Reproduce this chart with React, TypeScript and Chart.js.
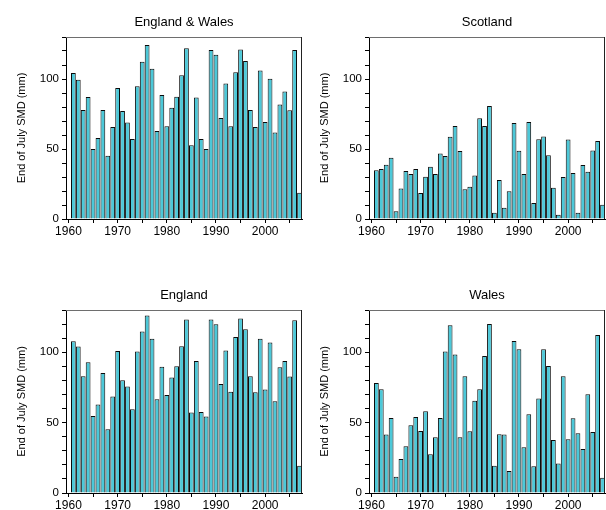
import React, { useEffect, useRef } from 'react';
import { Chart, registerables } from 'chart.js';

Chart.register(...registerables);

const FONT = '"Liberation Sans", Arial, Helvetica, sans-serif';

const years = [
  1960, 1961, 1962, 1963, 1964, 1965, 1966, 1967, 1968, 1969,
  1970, 1971, 1972, 1973, 1974, 1975, 1976, 1977, 1978, 1979,
  1980, 1981, 1982, 1983, 1984, 1985, 1986, 1987, 1988, 1989,
  1990, 1991, 1992, 1993, 1994, 1995, 1996, 1997, 1998, 1999,
  2000, 2001, 2002, 2003, 2004, 2005, 2006, 2007,
];

const englandWales = [
  null, 104.3, 99.5, 77.9, 87.1, 50, 57.9, 77.9, 45.2, 65.7,
  93.6, 77.1, 69, 57.1, 94.8, 112.4, 124.3, 107.4, 62.9, 88.6,
  66.2, 79.5, 87.4, 102.6, 121.9, 52.6, 86.7, 57.1, 50, 120.7,
  117.4, 72.1, 96.7, 66.2, 104.8, 121, 112.9, 77.9, 65.7, 106,
  69.3, 100.2, 61.7, 81.7, 91, 77.6, 120.7, 18.8,
];

const scotland = [
  null, 34.8, 35.7, 38.8, 43.8, 5.5, 21.7, 34.3, 32.1, 35.7,
  18.6, 30.2, 37.4, 32.1, 46.7, 45, 58.8, 66.4, 48.6, 21.2,
  23.1, 31, 71.9, 66.4, 80.7, 4.5, 27.9, 8.1, 19.8, 68.6,
  48.8, 32.1, 69.3, 11.4, 56.9, 59, 45.5, 22.4, 3.1, 30,
  56.7, 32.9, 4.5, 38.6, 33.8, 49, 55.7, 10.2,
];

const england = [
  null, 107.8, 104, 82.9, 92.9, 54.7, 62.8, 85.3, 45.3, 68.5,
  100.9, 80.1, 75.6, 59.5, 100.5, 114.7, 126.1, 109.5, 66.6, 89.6,
  69.7, 82, 90, 104.3, 123.2, 57.1, 93.8, 57.6, 54.3, 123.2,
  119.9, 77.5, 101.2, 72, 110.9, 123.9, 116.4, 82.9, 71.6, 109.5,
  73.5, 106.9, 65.2, 89.3, 93.8, 82.7, 122.7, 19.4,
];

const wales = [
  null, 78.2, 73.7, 41.5, 53.3, 11.6, 24.2, 33.2, 48.1, 54,
  44.1, 58.1, 27.5, 39.6, 53.3, 100.5, 119.2, 98.3, 39.6, 82.9,
  43.8, 65.6, 73.7, 97.4, 120.1, 19.4, 41.7, 41.5, 15.6, 108,
  102.1, 32.5, 55.9, 19, 67.1, 102.1, 90.3, 37.7, 20.9, 82.9,
  38.2, 53.1, 42.4, 31.3, 70.1, 43.4, 112.3, 10.9,
];

const yLabeledTicks = [0, 50, 100];
const yAxisTitle = 'End of July SMD (mm)';

type PanelProps = {
  title: string;
  values: (number | null)[];
  left: number;
  top: number;
  plotTop: number;
  xAxisH: number;
};

const CANVAS_W = 303;
const CANVAS_H = 255;

function Panel({ title, values, left, top, plotTop, xAxisH }: PanelProps) {
  const ref = useRef<HTMLCanvasElement | null>(null);

  useEffect(() => {
    if (!ref.current) return;
    const decor = {
      id: 'decor',
      afterDraw(chart: any) {
        const { ctx, chartArea: a } = chart;
        ctx.save();
        ctx.lineWidth = 1;
        ctx.strokeStyle = '#6e6e6e';
        ctx.beginPath();
        ctx.moveTo(a.left, a.top + 0.5);
        ctx.lineTo(a.right, a.top + 0.5);
        ctx.stroke();
        ctx.strokeStyle = '#222';
        ctx.beginPath();
        ctx.moveTo(a.right - 0.5, a.top);
        ctx.lineTo(a.right - 0.5, a.bottom);
        ctx.stroke();
        ctx.fillStyle = '#000';
        ctx.font = `13px ${FONT}`;
        ctx.textAlign = 'center';
        ctx.textBaseline = 'alphabetic';
        ctx.fillText(title, (a.left + a.right) / 2, a.top - 11);
        ctx.translate(22, (a.top + a.bottom) / 2);
        ctx.rotate(-Math.PI / 2);
        ctx.font = `11px ${FONT}`;
        ctx.textBaseline = 'middle';
        ctx.fillText(yAxisTitle, 0, 0);
        ctx.restore();
      },
    };

    const chart = new Chart(ref.current, {
      type: 'bar',
      data: {
        labels: years.map(String),
        datasets: [
          {
            data: values as any,
            backgroundColor: '#4cc8d8',
            borderColor: '#0a0a0a',
            borderWidth: 1,
            barPercentage: 0.97,
            categoryPercentage: 1,
          },
        ],
      },
      options: {
        animation: false,
        responsive: false,
        devicePixelRatio: 1,
        layout: { padding: { top: plotTop, right: 1, left: 0, bottom: 0 } },
        plugins: {
          legend: { display: false },
          tooltip: { enabled: false },
          title: { display: false },
        },
        scales: {
          x: {
            type: 'category',
            offset: true,
            grid: {
              display: true,
              drawOnChartArea: false,
              tickLength: 4,
              color: '#000',
              offset: false,
            },
            border: { display: true, color: '#000', width: 1 },
            ticks: {
              autoSkip: false,
              maxRotation: 0,
              minRotation: 0,
              padding: 1,
              color: '#000',
              font: { family: FONT, size: 12 },
              callback: (v: any) => {
                const y = years[Number(v)];
                return y % 10 === 0 ? String(y) : '';
              },
            },
            afterBuildTicks: (s: any) => {
              s.ticks = s.ticks.filter((t: any) => years[t.value] % 5 === 0);
            },
            afterFit: (s: any) => {
              s.height = xAxisH;
            },
          },
          y: {
            min: 0,
            max: 130,
            grid: {
              display: true,
              drawOnChartArea: false,
              tickLength: 4,
              color: '#000',
            },
            border: { display: true, color: '#000', width: 1 },
            ticks: {
              stepSize: 10,
              autoSkip: false,
              padding: 3,
              color: '#000',
              font: { family: FONT, size: 11.5 },
              callback: (v: any) =>
                yLabeledTicks.includes(Number(v)) ? String(v) : '',
            },
            afterFit: (s: any) => {
              s.width = 66;
            },
          },
        },
      },
      plugins: [decor],
    });
    return () => chart.destroy();
  }, [title, values, plotTop, xAxisH]);

  return (
    <canvas
      ref={ref}
      width={CANVAS_W}
      height={CANVAS_H}
      style={{
        position: 'absolute',
        left,
        top,
        width: CANVAS_W,
        height: CANVAS_H,
        display: 'block',
      }}
    />
  );
}

export default function App() {
  return (
    <div
      style={{
        position: 'absolute',
        left: 0,
        top: 0,
        width: 606,
        height: 510,
        background: '#fff',
        overflow: 'hidden',
      }}
    >
      <Panel title="England & Wales" values={englandWales} left={0} top={0} plotTop={37} xAxisH={36} />
      <Panel title="Scotland" values={scotland} left={303} top={0} plotTop={37} xAxisH={36} />
      <Panel title="England" values={england} left={0} top={255} plotTop={55} xAxisH={17} />
      <Panel title="Wales" values={wales} left={303} top={255} plotTop={55} xAxisH={17} />
    </div>
  );
}
